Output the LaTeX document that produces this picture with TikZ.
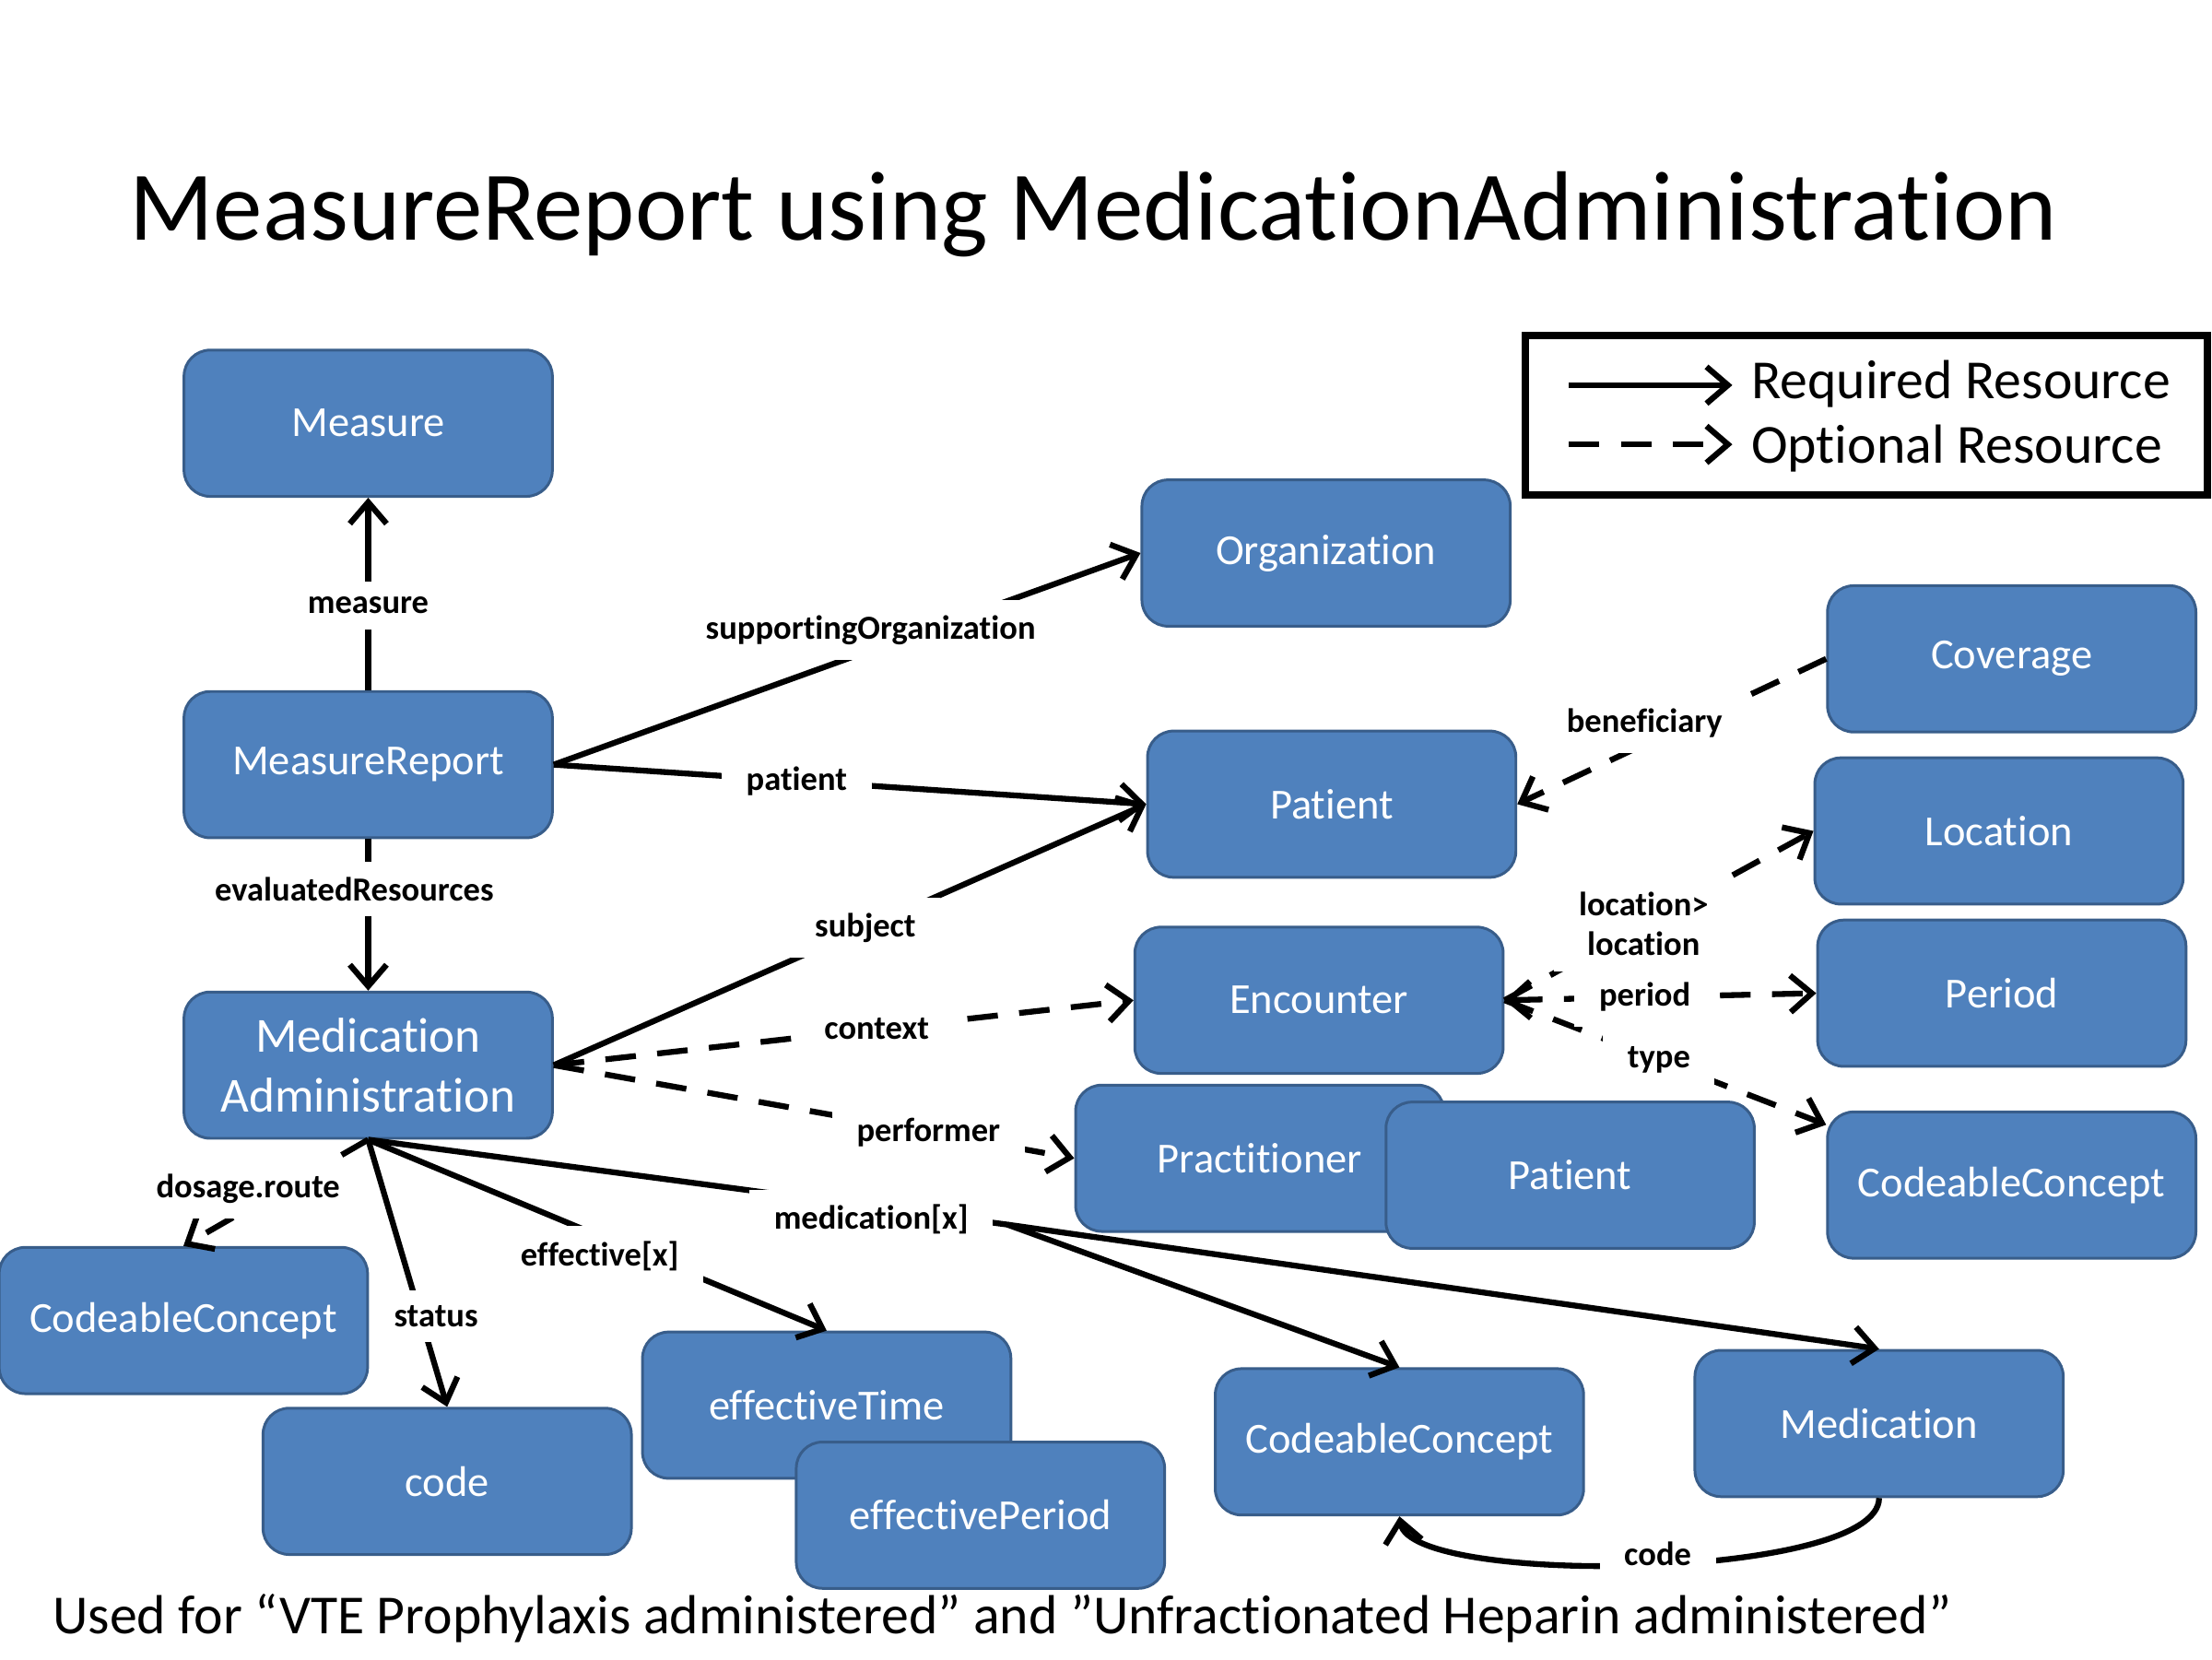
\documentclass[tikz,border=0pt]{standalone}
\usepackage{fontspec}
\setmainfont{Carlito}[Ligatures=NoCommon]
\usetikzlibrary{arrows.meta}
\definecolor{boxfill}{HTML}{4F81BD}
\definecolor{boxline}{HTML}{385D8A}

\begin{document}
\begin{tikzpicture}[
      x=0.162mm, y=-0.162mm,
      resbox/.style={
         rectangle,
         rounded corners=3mm,
         draw=boxline,
         fill=boxfill,
         line width=0.9pt,
         text=white,
         inner sep=0pt,
         minimum width=42.3mm,
         minimum height=16.8mm,
         font=\fontsize{14}{17}\selectfont},
      lbl/.style={
         fill=white,
         inner xsep=8pt,
         inner ysep=5pt,
         align=center,
         font=\bfseries\fontsize{11}{13}\selectfont},
      >={Straight Barb[length=7pt,width=12pt]},
      reqarrow/.style={line width=1.9pt,->},
      optarrow/.style={reqarrow,dash pattern=on 10pt off 7pt}
      ]
      \useasboundingbox (0,0) rectangle (1568,1176);

      \node[font=\fontsize{32.2}{36}\selectfont] (title) at (775,152)
        {MeasureReport using MedicationAdministration};

      \node[resbox] (measure) at (261,300) {Measure};
      \node[resbox] (report) at (261,542) {MeasureReport};
      \node[resbox,align=center,font=\fontsize{16}{19.5}\selectfont] (medadmin) at (261,755)
        {Medication\\Administration};
      \node[resbox] (org) at (940,392) {Organization};
      \node[resbox] (patient) at (944,570) {Patient};
      \node[resbox] (coverage) at (1426,467) {Coverage};
      \node[resbox] (location) at (1417,589) {Location};
      \node[resbox] (encounter) at (935,709) {Encounter};
      \node[resbox] (period) at (1419,704) {Period};
      \node[resbox] (practitioner) at (893,821) {Practitioner};
      \node[resbox] (subjpatient) at (1113,833) {Patient};
      \node[resbox] (typecc) at (1426,840) {CodeableConcept};
      \node[resbox] (routecc) at (130,936) {CodeableConcept};
      \node[resbox] (statuscode) at (317,1050) {code};
      \node[resbox] (efftime) at (586,996) {effectiveTime};
      \node[resbox] (effperiod) at (695,1074) {effectivePeriod};
      \node[resbox] (medcc) at (992,1022) {CodeableConcept};
      \node[resbox] (medication) at (1332,1009) {Medication};
      \coordinate (medbranch) at (714,868);

    % required references: start/end/text/pos/shift
    \foreach \i/\j/\txt/\p/\s in {%
      report.north/measure.south/measure/0.44/0mm,
      report.east/org.west/supportingOrganization/0.54/2.3mm,
      report.east/patient.west/patient/0.41/0mm,
      medadmin.east/patient.west/subject/0.526/0mm,
      medadmin.south/efftime.north/effective[x]/0.505/-2.3mm}
       \draw[reqarrow] (\i) -- node[lbl,pos=\p,yshift=\s] {\txt} (\j);
      \draw[reqarrow] (report.south) -- node[lbl,pos=0.33,xshift=-1.6mm] {evaluatedResources} (medadmin.north);

    % optional references
    \foreach \i/\j/\txt/\p/\s in {%
      medadmin.east/encounter.west/context/0.557/0mm,
      medadmin.east/practitioner.west/performer/0.72/0mm,
      coverage.west/patient.east/beneficiary/0.588/2.4mm,
      encounter.east/location.west/{location>\\location}/0.45/0mm,
      encounter.east/typecc.162/type/0.48/0mm,
      medadmin.south/routecc.north/dosage.route/0.65/2.3mm}
       \draw[optarrow] (\i) -- node[lbl,pos=\p,yshift=\s] {\txt} (\j);

      \draw[optarrow,<->] (encounter.east) -- node[lbl,pos=0.45] {period} (period.west);
      \draw[reqarrow] (medadmin.south) -- node[lbl,pos=0.66,xshift=1.8mm] {status} (statuscode.north);
      \draw[reqarrow,-] (medadmin.south) -- node[lbl,pos=0.787,yshift=-1.5mm] {medication[x]} (medbranch);
      \draw[reqarrow] (medbranch) -- (medcc.north);
      \draw[reqarrow] (medbranch) -- (medication.north);
      \draw[reqarrow] (medication.south) .. controls (1332,1120) and (1000,1125) ..
        node[lbl,pos=0.48,yshift=1.2mm] {code} (medcc.south);

    % legend
      \node[draw,line width=2.4pt,minimum width=78.4mm,minimum height=18.3mm,inner sep=0pt] (legend) at (1323,294.5) {};
      \coordinate (reqstart) at (1112,273);
      \coordinate (reqend) at (1228,273);
      \coordinate (optstart) at (1112,315);
      \coordinate (optend) at (1228,315);
      \draw[reqarrow] (reqstart) -- (reqend);
      \draw[optarrow] (optstart) -- (optend);
      \node[anchor=west,inner sep=0pt,font=\fontsize{18}{22}\selectfont] (reqtext) at (1241,272) {Required Resource};
      \node[anchor=west,inner sep=0pt,font=\fontsize{18}{22}\selectfont] (opttext) at (1241,318) {Optional Resource};

      \node[anchor=west,inner sep=0pt,font=\fontsize{18}{22}\selectfont] (note) at (37,1147)
        {Used for “VTE Prophylaxis administered” and ”Unfractionated Heparin administered”};
\end{tikzpicture}
\end{document}
